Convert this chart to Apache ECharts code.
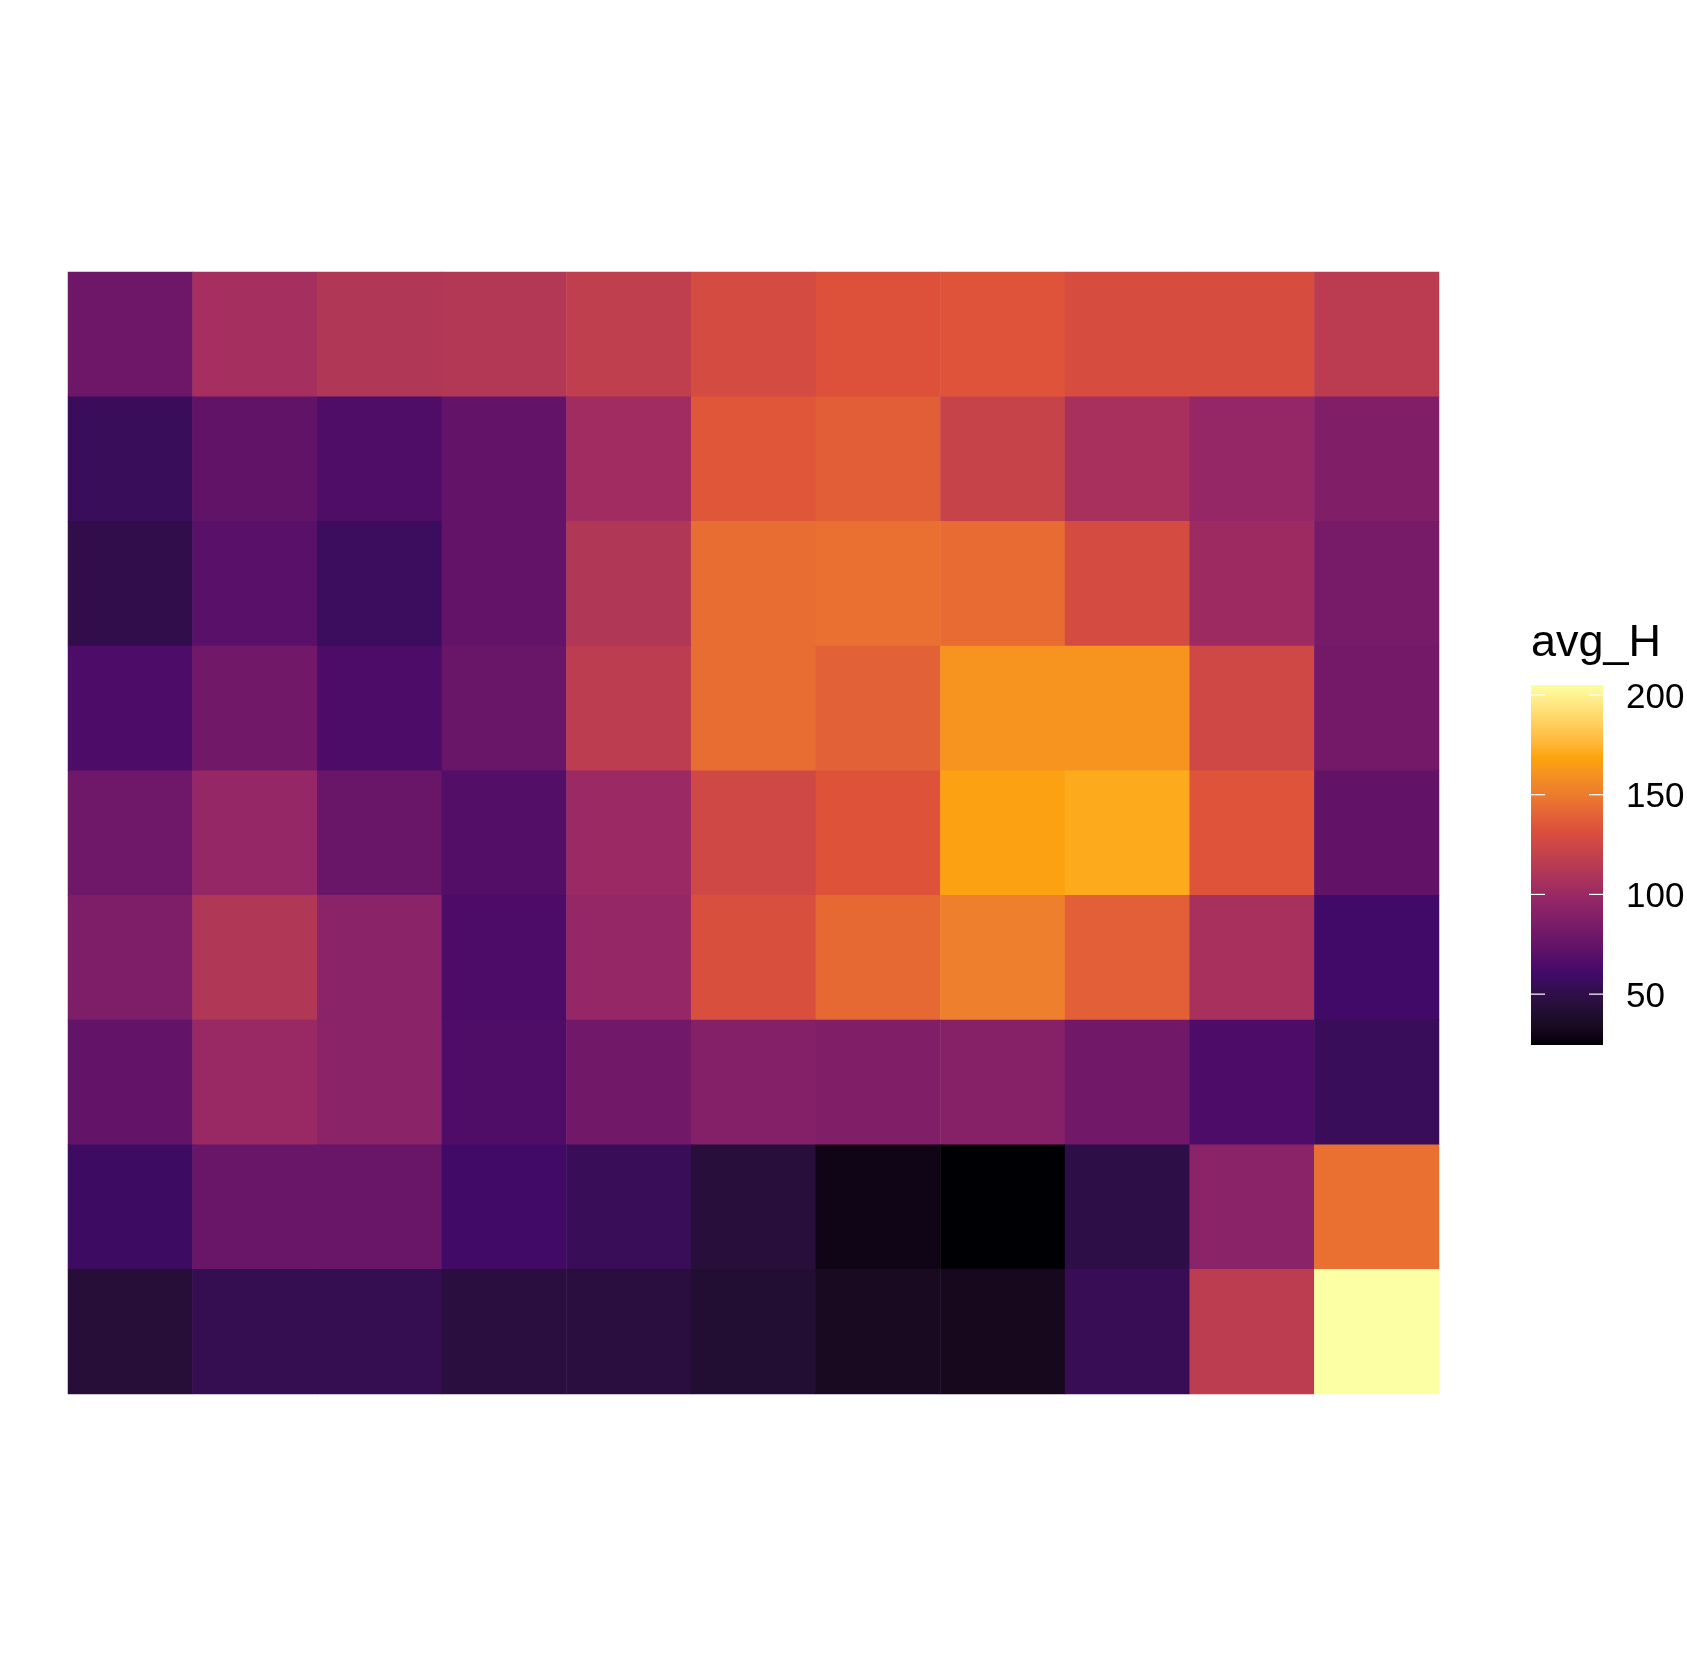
<!DOCTYPE html>
<html>
<head>
<meta charset="utf-8">
<script src="https://cdn.jsdelivr.net/npm/echarts@6/dist/echarts.min.js"></script>
<style>html,body{margin:0;padding:0;background:#fff}#c{width:1687px;height:1666px}</style>
</head>
<body>
<div id="c"></div>
<script>
// Columns (left to right) and rows (top to bottom)
const columns = ['1','2','3','4','5','6','7','8','9','10','11'];
const rows = ['r1','r2','r3','r4','r5','r6','r7','r8','r9'];
// avg_H values, one array per row, top to bottom
const row1 = [79, 104.7, 110.8, 111.7, 118, 128, 132.8, 133.7, 129, 129, 115.8];
const row2 = [55.7, 73.2, 65.6, 74.6, 102.4, 134.6, 137.9, 121.3, 105.9, 97.6, 87.9];
const row3 = [50.7, 69.6, 57, 74.6, 110.8, 144.3, 145.3, 143.4, 128, 101, 83.5];
const row4 = [64.7, 80.5, 64.5, 76.8, 116.6, 144.3, 139.3, 161.3, 161.3, 125.8, 81.4];
const row5 = [79.5, 97.6, 76.8, 67.4, 99.8, 125.8, 133.3, 166.9, 171, 133.7, 73.7];
const row6 = [86.6, 110.8, 92.7, 64.5, 98, 131.2, 142.5, 151.6, 138.4, 105.9, 60.6];
const row7 = [74.6, 99.4, 92.7, 66, 80.5, 89.3, 87.5, 90.6, 80.5, 64.5, 55.7];
const row8 = [58.3, 76.8, 76.8, 60, 55.5, 44.4, 29.7, 24.5, 48.3, 92.7, 145.3];
const row9 = [43.5, 52.8, 52.8, 45.8, 45.8, 41.3, 34.4, 32.8, 54.6, 116.6, 205];
const legendTicks = [50, 100, 150, 200];
const legendTitle = 'avg_H';

const valueMin = 24.5, valueMax = 205;
// inferno palette anchors (6 colours), interpolated in CIE Lab
const infernoAnchors = ['#000004','#420a68','#932667','#dd513a','#fca50a','#fcffa4'];

function hexToLab(hex) {
  const n = parseInt(hex.slice(1), 16);
  const c = [(n >> 16) & 255, (n >> 8) & 255, n & 255].map(v => {
    v /= 255; return v <= 0.04045 ? v / 12.92 : Math.pow((v + 0.055) / 1.055, 2.4);
  });
  let X = (0.4124564*c[0] + 0.3575761*c[1] + 0.1804375*c[2]) / 0.95047;
  let Y = (0.2126729*c[0] + 0.7151522*c[1] + 0.0721750*c[2]);
  let Z = (0.0193339*c[0] + 0.1191920*c[1] + 0.9503041*c[2]) / 1.08883;
  const f = t => t > 0.008856 ? Math.cbrt(t) : 7.787*t + 16/116;
  const fx = f(X), fy = f(Y), fz = f(Z);
  return [116*fy - 16, 500*(fx - fy), 200*(fy - fz)];
}
function labToHex(L, a, b) {
  const fy = (L + 16) / 116, fx = fy + a/500, fz = fy - b/200;
  const inv = t => t*t*t > 0.008856 ? t*t*t : (t - 16/116) / 7.787;
  const X = inv(fx)*0.95047, Y = inv(fy), Z = inv(fz)*1.08883;
  let r = 3.2404542*X - 1.5371385*Y - 0.4985314*Z;
  let g = -0.9692660*X + 1.8760108*Y + 0.0415560*Z;
  let bl = 0.0556434*X - 0.2040259*Y + 1.0572252*Z;
  const gam = v => { v = v <= 0.0031308 ? 12.92*v : 1.055*Math.pow(v, 1/2.4) - 0.055; return Math.max(0, Math.min(255, Math.round(v*255))); };
  return '#' + [r, g, bl].map(gam).map(v => v.toString(16).padStart(2, '0')).join('');
}
const anchorLab = infernoAnchors.map(hexToLab);
const palette = [];
const N = 100;
for (let i = 0; i <= N; i++) {
  const t = i / N * (anchorLab.length - 1);
  const k = Math.min(Math.floor(t), anchorLab.length - 2);
  const s = t - k;
  const A = anchorLab[k], B = anchorLab[k + 1];
  palette.push(labToHex(A[0] + (B[0]-A[0])*s, A[1] + (B[1]-A[1])*s, A[2] + (B[2]-A[2])*s));
}

const allRows = [row1,row2,row3,row4,row5,row6,row7,row8,row9];
const data = [];
allRows.forEach((r, ri) => r.forEach((v, ci) => data.push([ci, ri, v])));

// Colorbar geometry
const barLeft = 1531, barTop = 685, barW = 72, barH = 360;
const yOf = v => barTop + barH - (v - valueMin) / (valueMax - valueMin) * barH;
const gradStops = palette.map((c, i) => ({offset: 1 - i / (palette.length - 1), color: c}));
const graphics = [
  {type: 'rect', shape: {x: barLeft, y: barTop, width: barW, height: barH},
   style: {fill: new echarts.graphic.LinearGradient(0, 0, 0, 1, gradStops)}, silent: true},
  {type: 'text', left: 1531, top: 621, style: {text: legendTitle, font: '45px "Liberation Sans", Arial, sans-serif', fill: '#000'}}
];
legendTicks.forEach(t => {
  const y = yOf(t);
  graphics.push({type: 'line', shape: {x1: barLeft, y1: y, x2: barLeft + 14, y2: y}, style: {stroke: '#fff', lineWidth: 1.2}});
  graphics.push({type: 'line', shape: {x1: barLeft + barW - 14, y1: y, x2: barLeft + barW, y2: y}, style: {stroke: '#fff', lineWidth: 1.2}});
  graphics.push({type: 'text', x: 1626, y: y + 3, style: {text: String(t), font: '35px "Liberation Sans", Arial, sans-serif', fill: '#000', verticalAlign: 'middle', align: 'left'}});
});

const chart = echarts.init(document.getElementById('c'), null, {renderer: 'canvas'});
chart.setOption({
  backgroundColor: '#fff',
  animation: false,
  grid: {left: 68, top: 272, width: 1371, height: 1122},
  xAxis: {type: 'category', data: columns, show: false},
  yAxis: {type: 'category', data: rows, inverse: true, show: false},
  visualMap: {type: 'continuous', min: valueMin, max: valueMax, show: false, dimension: 2,
    inRange: {color: palette}},
  graphic: graphics,
  series: [{type: 'heatmap', data: data, itemStyle: {borderWidth: 0}, emphasis: {disabled: true}}]
});
</script>
</body>
</html>
